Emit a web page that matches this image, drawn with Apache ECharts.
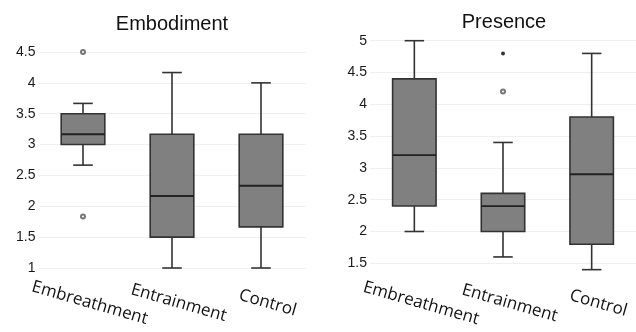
<!DOCTYPE html>
<html>
<head>
<meta charset="utf-8">
<script src="https://cdn.jsdelivr.net/npm/echarts@6/dist/echarts.min.js"></script>
<style>
html,body{margin:0;padding:0;background:#fff;}
#chart{width:636px;height:332px;}
</style>
</head>
<body>
<div id="chart"></div>
<script>
// ---- data ----
const categories = ['Embreathment', 'Entrainment', 'Control'];
// [low whisker, Q1, median, Q3, high whisker]
const embodimentBoxes = [
  [2.667, 3.0, 3.167, 3.5, 3.667],
  [1.0, 1.5, 2.167, 3.167, 4.167],
  [1.0, 1.667, 2.333, 3.167, 4.0]
];
const embodimentOutliers = [[0, 4.5], [0, 1.833]];
const embodimentExtremes = [];
const presenceBoxes = [
  [2.0, 2.4, 3.2, 4.4, 5.0],
  [1.6, 2.0, 2.4, 2.6, 3.4],
  [1.4, 1.8, 2.9, 3.8, 4.8]
];
const presenceOutliers = [[1, 4.2]];
const presenceExtremes = [[1, 4.8]];
const embodimentTicks = [1, 4.5, 0.5];
const presenceTicks = [1.5, 5, 0.5];

// ---- rendering ----
const chart = echarts.init(document.getElementById('chart'), null, {renderer: 'canvas'});
const LINE = '#333333';
const FILL = '#808080';

function boxData(boxes) {
  return boxes.map((b, i) => [i].concat(b));
}

function renderBox(params, api) {
  const x = api.value(0);
  const low = api.coord([x, api.value(1)]);
  const q1 = api.coord([x, api.value(2)]);
  const med = api.coord([x, api.value(3)]);
  const q3 = api.coord([x, api.value(4)]);
  const high = api.coord([x, api.value(5)]);
  const band = api.size([1, 0])[0];
  const bw = band * 0.49;
  const cw = band * 0.22;
  const cx = low[0];
  const ls = {stroke: LINE, lineWidth: 1.6};
  return {
    type: 'group',
    children: [
      {type: 'line', shape: {x1: cx, y1: high[1], x2: cx, y2: q3[1]}, style: ls},
      {type: 'line', shape: {x1: cx, y1: q1[1], x2: cx, y2: low[1]}, style: ls},
      {type: 'line', shape: {x1: cx - cw / 2, y1: high[1], x2: cx + cw / 2, y2: high[1]}, style: ls},
      {type: 'line', shape: {x1: cx - cw / 2, y1: low[1], x2: cx + cw / 2, y2: low[1]}, style: ls},
      {type: 'rect', shape: {x: cx - bw / 2, y: q3[1], width: bw, height: q1[1] - q3[1]},
        style: {fill: FILL, stroke: LINE, lineWidth: 1.6}},
      {type: 'line', shape: {x1: cx - bw / 2, y1: med[1], x2: cx + bw / 2, y2: med[1]}, style: {stroke: '#222', lineWidth: 1.8}}
    ]
  };
}

function yAxis(gridIndex, t) {
  return {
    type: 'value', gridIndex: gridIndex, min: t[0], max: t[1], interval: t[2],
    axisLine: {show: false}, axisTick: {show: false},
    splitLine: {show: true, lineStyle: {color: '#efefef', width: 1}},
    axisLabel: {color: '#1a1a1a', fontSize: 14, fontFamily: 'Liberation Sans, Arial, sans-serif', margin: 3}
  };
}
function xAxis(gridIndex, margin) {
  return {
    type: 'category', gridIndex: gridIndex, data: categories,
    axisLine: {show: false}, axisTick: {show: false}, splitLine: {show: false},
    axisLabel: {
      interval: 0, rotate: -16, align: 'center', verticalAlign: 'middle',
      margin: margin, color: '#111', fontSize: 17, fontFamily: 'Open Sans, sans-serif',
      padding: [0, 0, 0, 14]
    }
  };
}

const titleStyle = {fontSize: 20, fontWeight: 'normal', color: '#111', fontFamily: 'Liberation Sans, Arial, sans-serif'};

chart.setOption({
  backgroundColor: '#ffffff',
  animation: false,
  title: [
    {text: 'Embodiment', left: 172, top: 14, padding: 0, textAlign: 'center', textStyle: titleStyle},
    {text: 'Presence', left: 504, top: 12, padding: 0, textAlign: 'center', textStyle: titleStyle}
  ],
  grid: [
    {left: 38.5, top: 52, width: 267, height: 216},
    {left: 370, top: 40.7, width: 270, height: 222.6}
  ],
  xAxis: [xAxis(0, 33), xAxis(1, 38)],
  yAxis: [yAxis(0, embodimentTicks), yAxis(1, presenceTicks)],
  series: [
    {type: 'custom', xAxisIndex: 0, yAxisIndex: 0, renderItem: renderBox, data: boxData(embodimentBoxes),
      encode: {x: 0, y: [1, 2, 3, 4, 5]}, silent: true},
    {type: 'scatter', xAxisIndex: 0, yAxisIndex: 0, data: embodimentOutliers, symbol: 'emptyCircle', symbolSize: 4,
      itemStyle: {color: '#555', borderWidth: 1}, silent: true},
    {type: 'scatter', xAxisIndex: 0, yAxisIndex: 0, data: embodimentExtremes, symbol: 'circle', symbolSize: 4,
      itemStyle: {color: '#000'}, silent: true},
    {type: 'custom', xAxisIndex: 1, yAxisIndex: 1, renderItem: renderBox, data: boxData(presenceBoxes),
      encode: {x: 0, y: [1, 2, 3, 4, 5]}, silent: true},
    {type: 'scatter', xAxisIndex: 1, yAxisIndex: 1, data: presenceOutliers, symbol: 'emptyCircle', symbolSize: 4,
      itemStyle: {color: '#555', borderWidth: 1}, silent: true},
    {type: 'scatter', xAxisIndex: 1, yAxisIndex: 1, data: presenceExtremes, symbol: 'circle', symbolSize: 4,
      itemStyle: {color: '#000'}, silent: true}
  ]
});
</script>
</body>
</html>
